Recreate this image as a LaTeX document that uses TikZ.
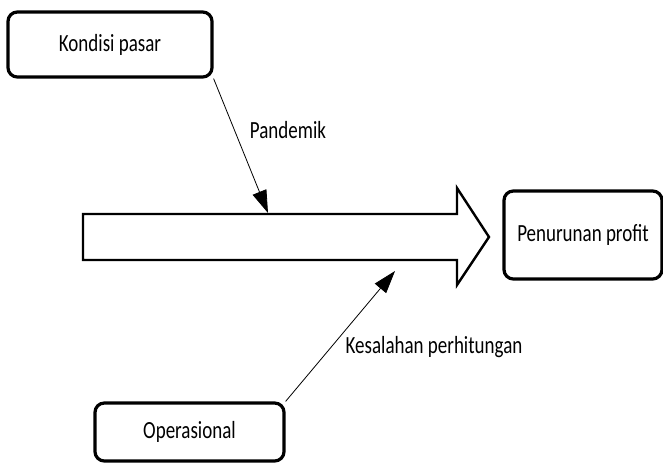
\documentclass[tikz,border=0pt]{standalone}
\usepackage{fontspec}
\setmainfont{Carlito}[FakeStretch=0.77]
\usepackage{tikz}
\usetikzlibrary{arrows.meta}

\begin{document}
\begin{tikzpicture}[x=0.75pt, y=-0.75pt, every node/.style={font=\fontsize{18.5}{22}\selectfont},
    box/.style={draw, line width=2.4pt, rounded corners=7pt, inner sep=0pt},
    link/.style={line width=0.6pt, -{Triangle[length=17pt, width=11pt]}}]
  \useasboundingbox (0,0) rectangle (663,462);
  \node[box, minimum width=153pt, minimum height=48.75pt] (kondisi) at (110,44.5) {Kondisi pasar};
  \node[box, minimum width=141.75pt, minimum height=43.5pt] (operasional) at (189.5,432) {Operasional};
  \node[box, minimum width=118.5pt, minimum height=66pt] (penurunan) at (583,235) {Penurunan profit};
  \draw[line width=1.8pt, line join=miter] (83,214) -- (457,214) -- (457,188) -- (489,237)
    -- (457,285) -- (457,260) -- (83,260) -- cycle;
  \coordinate (pandemikend) at (268,213);
  \coordinate (kesalahanend) at (395,271);
  \draw[link] (kondisi.south east) -- (pandemikend);
  \draw[link] (operasional.north east) -- (kesalahanend);
  \node (pandemik) at (288,130) {Pandemik};
  \node (kesalahan) at (434,347) {Kesalahan perhitungan};
\end{tikzpicture}
\end{document}
